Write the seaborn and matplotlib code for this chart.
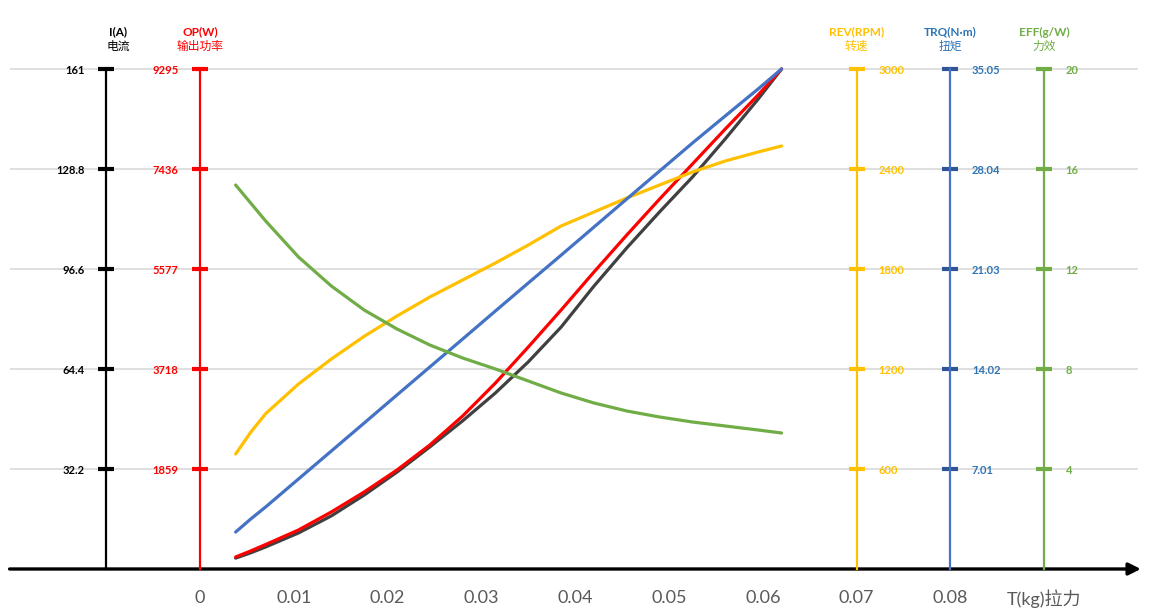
import matplotlib
matplotlib.use("Agg")
import matplotlib.pyplot as plt
import seaborn as sns
import pandas as pd

# 拉力 T(kg)
thrust = [0.0038, 0.0054, 0.007, 0.0105, 0.014, 0.0175, 0.021, 0.0245, 0.028, 0.0315,
          0.035, 0.0385, 0.042, 0.0455, 0.049, 0.0525, 0.056, 0.0595, 0.062]
# 电流 I(A)
current = [3.5, 5.2, 7.1, 11.6, 17.1, 23.8, 31.2, 39.3, 47.7, 56.7,
           66.7, 77.9, 91.1, 103.4, 115.0, 126.2, 138.5, 151.3, 161.0]
# 输出功率 OP(W)
power = [223, 335, 455, 725, 1060, 1431, 1840, 2305, 2844, 3458,
         4127, 4815, 5521, 6209, 6878, 7529, 8180, 8812, 9295]
# 转速 REV(RPM)
rpm = [690, 820, 932, 1110, 1260, 1396, 1518, 1632, 1734, 1836,
       1944, 2058, 2142, 2226, 2304, 2382, 2448, 2502, 2538]
# 扭矩 TRQ(N·m)
torque = [2.59, 3.50, 4.35, 6.31, 8.27, 10.23, 12.20, 14.16, 16.12, 18.09,
          20.05, 22.00, 23.97, 25.94, 27.90, 29.86, 31.76, 33.65, 35.05]
# 力效 EFF(g/W)
eff = [15.36, 14.64, 13.92, 12.48, 11.32, 10.36, 9.60, 8.96, 8.44, 8.00,
       7.52, 7.04, 6.64, 6.32, 6.08, 5.88, 5.72, 5.56, 5.44]

x_ticks = [0, 0.01, 0.02, 0.03, 0.04, 0.05, 0.06, 0.07, 0.08, 0.09]
x_labels = ["0", "0.01", "0.02", "0.03", "0.04", "0.05", "0.06", "0.07", "0.08", "T(kg)拉力"]

# 每条纵轴: 数据, 刻度标签, 位置, 颜色
axes_cfg = [
    dict(vals=current, labels=["32.2", "64.4", "96.6", "128.8", "161"], step=32.2, pos=-0.01,
         side="left", line="#000000", tick="#000000", text="#000000", curve="#404040",
         head=("I(A)", "电流"), head_x=-0.0087),
    dict(vals=power, labels=["1859", "3718", "5577", "7436", "9295"], step=1859, pos=0.0,
         side="left", line="#FF0000", tick="#FF0000", text="#FF0000", curve="#FF0000",
         head=("OP(W)", "输出功率"), head_x=0.0),
    dict(vals=rpm, labels=["600", "1200", "1800", "2400", "3000"], step=600, pos=0.07,
         side="right", line="#FFC000", tick="#FFC000", text="#FFC000", curve="#FFC000",
         head=("REV(RPM)", "转速"), head_x=0.07),
    dict(vals=torque, labels=["7.01", "14.02", "21.03", "28.04", "35.05"], step=7.01, pos=0.08,
         side="right", line="#4472C4", tick="#2F5597", text="#2E75B6", curve="#4472C4",
         head=("TRQ(N·m)", "扭矩"), head_x=0.08),
    dict(vals=eff, labels=["4", "8", "12", "16", "20"], step=4, pos=0.09,
         side="right", line="#70AD47", tick="#70AD47", text="#70AD47", curve="#70AD47",
         head=("EFF(g/W)", "力效"), head_x=0.09),
]

sns.set_theme(style="white")
plt.rcParams["font.family"] = ["Lato", "Noto Sans CJK SC", "DejaVu Sans"]

px = 9380.0  # 像素 / 单位x
x_lo, x_hi = -200 / px, 951 / px
y_lo, y_hi = -0.46, 5.69

fig = plt.figure(figsize=(11.51, 6.15), dpi=100)
ax = fig.add_axes([0, 0, 1, 1])
ax.set_xlim(x_lo, x_hi)
ax.set_ylim(y_lo, y_hi)
for s in ax.spines.values():
    s.set_visible(False)
ax.spines["bottom"].set_position(("data", 0))
ax.set_yticks([])
ax.set_xticks(x_ticks, x_labels)
ax.tick_params(axis="x", length=0, pad=15, labelsize=13, labelcolor="#595959")

# 网格线
ax.hlines([1, 2, 3, 4, 5], -0.0203, 0.1000, color="#D9D9D9", lw=1.2, zorder=0)
# 横轴箭头
ax.annotate("", xy=(0.1003, 0), xytext=(-0.0203, 0),
            arrowprops=dict(arrowstyle="-|>", color="black", lw=2.4, mutation_scale=18,
                            shrinkA=0, shrinkB=0))

df = pd.DataFrame({"T": thrust})
for cfg in axes_cfg:
    tw = ax.twinx()
    tw.set_ylim(y_lo * cfg["step"], y_hi * cfg["step"])
    tw.grid(False)
    for s in tw.spines.values():
        s.set_visible(False)
    sp = tw.spines[cfg["side"]]
    sp.set_visible(True)
    sp.set_position(("data", cfg["pos"]))
    sp.set_bounds(0, 5 * cfg["step"])
    sp.set_color(cfg["line"])
    sp.set_linewidth(1.6)
    if cfg["side"] == "left":
        tw.yaxis.tick_left()
    else:
        tw.yaxis.tick_right()
    tw.set_yticks([cfg["step"] * k for k in range(1, 6)], cfg["labels"])
    tw.tick_params(axis="y", direction="inout", length=11, width=3, color=cfg["tick"],
                   labelcolor=cfg["text"], labelsize=8, pad=10)
    for t in tw.get_yticklabels():
        t.set_fontweight("bold")
    df["v"] = cfg["vals"]
    sns.lineplot(data=df, x="T", y="v", ax=tw, color=cfg["curve"], lw=2.3,
                 sort=False, estimator=None)
    tw.set_xlabel("")
    tw.set_ylabel("")
    ax.text(cfg["head_x"], 5.37, cfg["head"][0], color=cfg["text"], fontsize=8.5,
            ha="center", va="center", fontweight="bold")
    ax.text(cfg["head_x"], 5.225, cfg["head"][1], color=cfg["text"], fontsize=8.5,
            ha="center", va="center")

fig.savefig("out.png", dpi=100)
